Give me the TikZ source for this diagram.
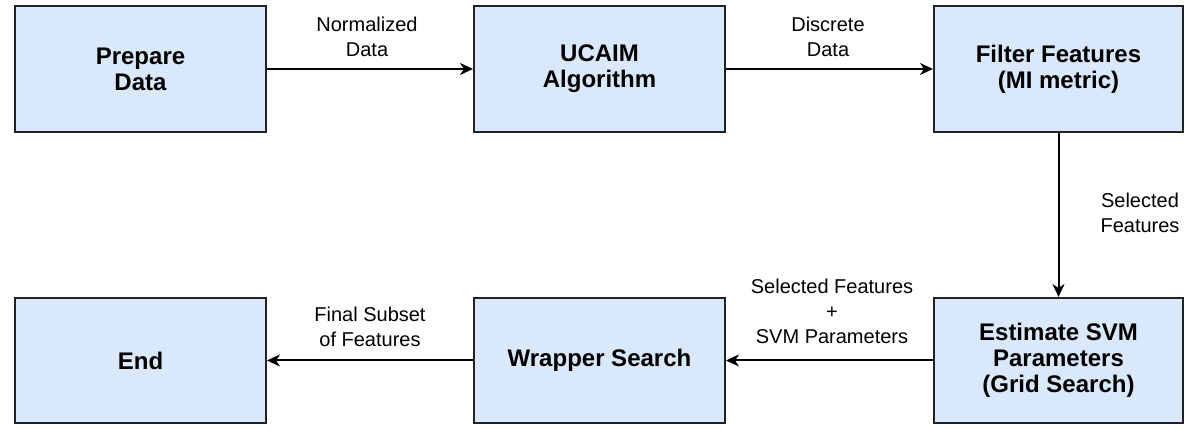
\documentclass[tikz,border=0pt]{standalone}
\usepackage{fontspec}
\setmainfont{Liberation Sans}
\usetikzlibrary{arrows.meta}
\definecolor{boxfill}{HTML}{DAE8FC}
\definecolor{boxline}{HTML}{222222}
\begin{document}
\begin{tikzpicture}[x=1pt,y=-1pt,
  procbox/.style={draw=boxline,fill=boxfill,line width=2pt,minimum width=251pt,minimum height=126pt,inner sep=0pt,align=center,font=\fontsize{24}{26}\selectfont\bfseries},
  flowlabel/.style={inner sep=0pt,align=center,font=\fontsize{20}{25}\selectfont},
  flow/.style={line width=2pt,draw=black,-{Stealth[length=13pt,width=12pt,inset=4pt]}}]
\useasboundingbox (0,0) rectangle (1192,430);
\node[procbox] (prep) at (140.5,69) {Prepare\\Data};
\node[procbox] (ucaim) at (599.5,69) {UCAIM\\Algorithm};
\node[procbox,minimum width=249pt] (filt) at (1058.5,69) {Filter Features\\(MI metric)};
\node[procbox,minimum height=125pt] (end) at (140.5,360.5) {End};
\node[procbox,minimum height=125pt] (wrap) at (599.5,360.5) {Wrapper Search};
\node[procbox,minimum width=249pt,minimum height=125pt] (est) at (1058.5,360.5) {Estimate SVM\\Parameters\\(Grid Search)};
\draw[flow] (prep) -- (ucaim);
\draw[flow] (ucaim) -- (filt);
\draw[flow] (filt) -- (est);
\draw[flow] (est) -- (wrap);
\draw[flow] (wrap) -- (end);
\node[flowlabel] (l1) at (367,37.2) {Normalized\\Data};
\node[flowlabel] (l2) at (828,37.2) {Discrete\\Data};
\node[flowlabel] (l3) at (1140,213.2) {Selected\\Features};
\node[flowlabel] (l4) at (832,311.7) {Selected Features\\+\\SVM Parameters};
\node[flowlabel] (l5) at (370,327.2) {Final Subset\\of Features};
\end{tikzpicture}
\end{document}
